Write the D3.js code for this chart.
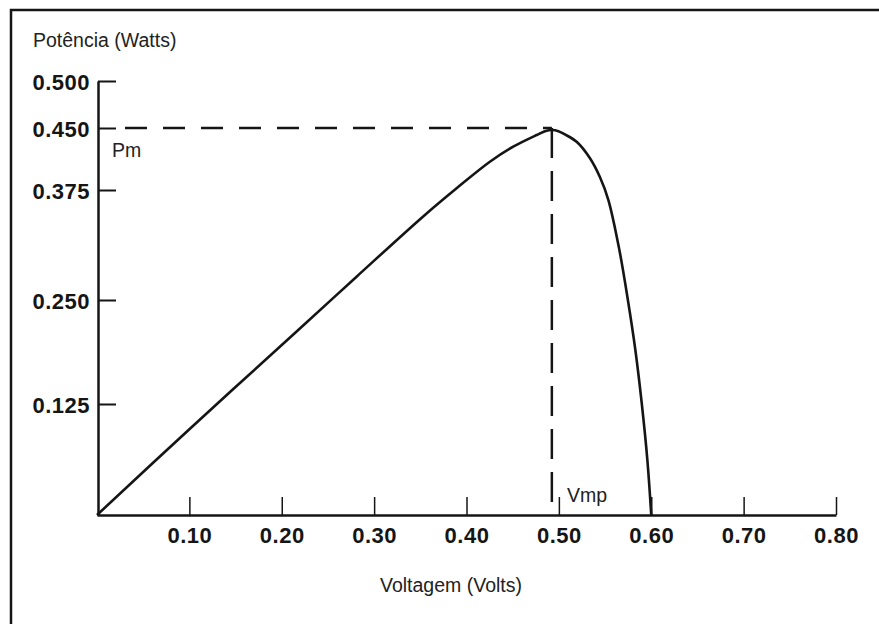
<!DOCTYPE html>
<html>
<head>
<meta charset="utf-8">
<script src="https://cdn.jsdelivr.net/npm/d3@7/dist/d3.min.js"></script>
<style>
  html, body { margin: 0; padding: 0; background: #fff; }
  svg { display: block; font-family: "Liberation Sans", Arial, Helvetica, sans-serif; }
</style>
</head>
<body>
<svg id="chart" width="879" height="624"></svg>
<script>
// ---- data ----
const voltage = [0, 0.1006, 0.2143, 0.281, 0.3528, 0.3893, 0.4253, 0.4506, 0.4759, 0.4850, 0.4924,
                 0.4995, 0.5060, 0.5195, 0.5335, 0.5444, 0.5536, 0.5655, 0.5747, 0.5828, 0.5898, 0.5958, 0.600];
const power   = [0, 0.0972, 0.2103, 0.2765, 0.3447, 0.3771, 0.4092, 0.4274, 0.4415, 0.4460, 0.4475,
                 0.4462, 0.4425, 0.4331, 0.4137, 0.3907, 0.3636, 0.3068, 0.25, 0.1899, 0.125, 0.0619, 0];
const yTicks = [0.125, 0.25, 0.375, 0.45, 0.5];
const xTicks = [0.1, 0.2, 0.3, 0.4, 0.5, 0.6, 0.7, 0.8];
const maxPower = 0.45;
const vmp = 0.4924;
const yTitle = "Potência (Watts)";
const xTitle = "Voltagem (Volts)";
const pmLabel = "Pm";
const vmpLabel = "Vmp";

// ---- layout ----
const svg = d3.select("#chart");
const ink = "#151515";

// frame
svg.append("rect").attr("x", 11).attr("y", 10).attr("width", 900).attr("height", 700)
  .attr("fill", "none").attr("stroke", ink).attr("stroke-width", 2.5);

const x = d3.scaleLinear().domain([0, 0.8]).range([97, 836]);
// the printed axis is slightly uneven; follow its tick positions
const y = d3.scaleLinear().domain([0, 0.125, 0.25, 0.375, 0.45, 0.5]).range([515, 404, 300, 190, 128, 81]);

// dashed guides
svg.append("line").attr("x1", x(0) + 28).attr("x2", x(vmp)).attr("y1", y(maxPower)).attr("y2", y(maxPower))
  .attr("stroke", ink).attr("stroke-width", 2.5).attr("stroke-dasharray", "22,16");
svg.append("line").attr("x1", x(vmp)).attr("x2", x(vmp)).attr("y1", y(maxPower)).attr("y2", y(0) - 4)
  .attr("stroke", ink).attr("stroke-width", 2.5).attr("stroke-dasharray", "30,13");

// axes
const yAxis = d3.axisLeft(y).tickValues(yTicks).tickFormat(d3.format(".3f"))
  .tickSize(-18).tickSizeOuter(0).tickPadding(8);
const gy = svg.append("g").attr("transform", `translate(${x(0) + 1},0)`).call(yAxis);
gy.select(".domain").attr("stroke", ink).attr("stroke-width", 2.5);
gy.selectAll(".tick line").attr("stroke", ink).attr("stroke-width", 2);
gy.selectAll(".tick text").attr("fill", ink).attr("font-size", 22).attr("font-weight", "bold")
  .attr("letter-spacing", 0.5).attr("dy", "0.4em").attr("font-family", "Liberation Sans, Arial, sans-serif");

const xAxis = d3.axisBottom(x).tickValues(xTicks).tickFormat(d3.format(".2f"))
  .tickSize(-18).tickSizeOuter(0).tickPadding(12);
const gx = svg.append("g").attr("transform", `translate(0,${y(0)})`).call(xAxis);
gx.select(".domain").attr("stroke", ink).attr("stroke-width", 2.5);
gx.selectAll(".tick line").attr("stroke", ink).attr("stroke-width", 1.5);
gx.selectAll(".tick text").attr("fill", ink).attr("font-size", 22).attr("font-weight", "bold")
  .attr("letter-spacing", 0.5).attr("font-family", "Liberation Sans, Arial, sans-serif");

// curve
const pts = voltage.map((v, i) => [v, power[i]]);
svg.append("path").datum(pts)
  .attr("fill", "none").attr("stroke", ink).attr("stroke-width", 2.6).attr("stroke-linejoin", "round")
  .attr("d", d3.line().x(d => x(d[0])).y(d => y(d[1])).curve(d3.curveCatmullRom.alpha(0.5)));

// texts
svg.append("text").attr("x", 33).attr("y", 47).attr("font-size", 19.5).attr("fill", "#222").text(yTitle);
svg.append("text").attr("x", 451).attr("y", 592).attr("text-anchor", "middle").attr("font-size", 19.5).attr("fill", "#222").text(xTitle);
svg.append("text").attr("x", 112).attr("y", 157).attr("font-size", 19.5).attr("fill", "#222").text(pmLabel);
svg.append("text").attr("x", 567).attr("y", 502).attr("font-size", 19.5).attr("fill", "#222").text(vmpLabel);
</script>
</body>
</html>
